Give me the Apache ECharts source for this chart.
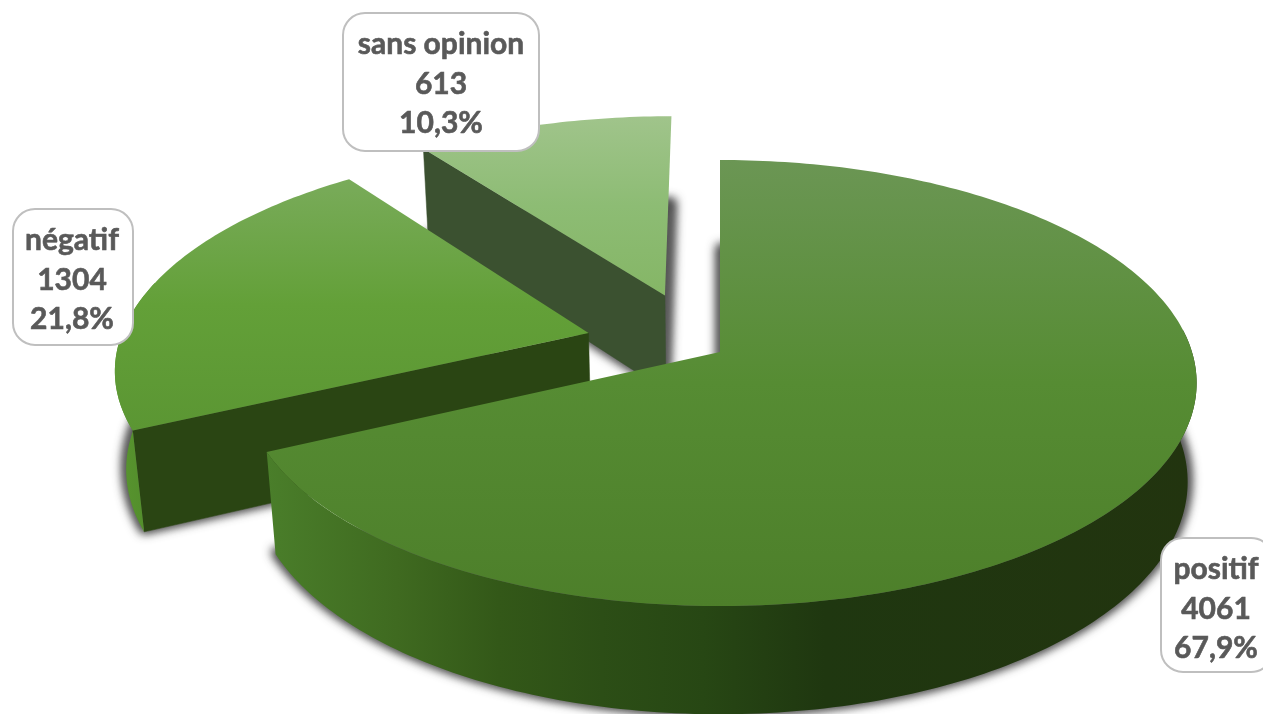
<!DOCTYPE html>
<html><head><meta charset="utf-8">
<style>html,body{margin:0;padding:0;background:#fff;overflow:hidden}#c{width:1263px;height:714px}</style>
<script src="https://cdn.jsdelivr.net/npm/echarts@6/dist/echarts.min.js"></script>
</head><body><div id="c"></div>
<script>
const categories = ['positif', 'négatif', 'sans opinion'];
const values = [4061, 1304, 613];
const total = values.reduce((a, b) => a + b, 0);

// Slice start/end angles (clockwise from 12 o'clock) derived from the values
const spans = [];
values.reduce((acc, v, i) => { spans[i] = [acc, acc + v / total * 360]; return spans[i][1]; }, 0);

// Perspective camera and appearance, indexed like categories
const cam = { cx: 720, cy: 352, R: 472, A: 218.7, B: 100, k: 0.139, m: 0.0188 };
const explode = [[0, 0], [-0.282, 0.088], [-0.121, 0.268]];
const looks = [
  { top: ['#6b9654', '#568c33', '#4d7f2a'], radial: '#26451a',
    outer: [[0, '#4a7e2a'], [0.14, '#3f6a20'], [0.25, '#335818'], [0.36, '#2c4e16'], [0.47, '#274714'], [0.6, '#1f3710'], [1, '#22340f']] },
  { top: ['#79ab5a', '#63a038', '#5b9633'], radial: '#2a4513',
    outer: [[0, '#59952f'], [1, '#4f8a2a']] },
  { top: ['#a0c48b', '#8dbc74', '#85b666'], radial: '#3b5130', outer: [[0, '#3b5130'], [1, '#3b5130']] }
];
const labelBoxes = [
  { x: 1161, y: 538, w: 112, h: 134, tx: 1216 },
  { x: 13, y: 209, w: 120, h: 136, tx: 72 },
  { x: 343, y: 13, w: 196, h: 138, tx: 441 }
];
const OFF = 3000; // shadow casters sit off-canvas so that only their blur shows

function project(u, v, z) {
  const w = 1 + cam.k * v + cam.m * z;
  return [cam.cx + cam.R * u / w, cam.cy + (-cam.A * v + cam.B * z) / w];
}
const rad = d => d * Math.PI / 180;
function rim(i, deg, z) {
  const e = explode[i];
  return project(e[0] + Math.sin(rad(deg)), e[1] + Math.cos(rad(deg)), z);
}
function apex(i, z) { return project(explode[i][0], explode[i][1], z); }
function arc(i, a, b, z) {
  const pts = [], n = Math.max(2, Math.ceil(Math.abs(b - a)));
  for (let t = 0; t <= n; t++) pts.push(rim(i, a + (b - a) * t / n, z));
  return pts;
}
function vGrad(c) {
  return new echarts.graphic.LinearGradient(0, 0, 0, 1,
    [{ offset: 0, color: c[0] }, { offset: 0.5, color: c[1] }, { offset: 1, color: c[2] }]);
}
function hGrad(stops) {
  return new echarts.graphic.LinearGradient(0, 0, 1, 0, stops.map(s => ({ offset: s[0], color: s[1] })));
}
function poly(points, style) { return { type: 'polygon', silent: true, shape: { points }, style }; }

function renderShadow(params, api) {
  const i = api.value(0), s = spans[i];
  const pts = [apex(i, 0.98)].concat(arc(i, s[0], s[1], 0.98)).map(p => [p[0] - OFF, p[1]]);
  return poly(pts, { fill: '#000', stroke: '#000', lineWidth: 9, lineJoin: 'round',
    shadowBlur: 10, shadowColor: 'rgba(50,50,50,0.85)', shadowOffsetX: OFF * (window.devicePixelRatio || 1) });
}
function renderSlice(params, api) {
  const i = api.value(0), s = spans[i], look = looks[i], children = [];
  // radial wall facing the viewer at the slice's starting edge
  if (Math.sin(rad(s[0])) < -0.01) {
    children.push(poly([apex(i, 0), rim(i, s[0], 0), rim(i, s[0], 1), apex(i, 1)],
      { fill: look.radial, stroke: look.radial, lineWidth: 0.5 }));
  }
  // outer curved wall where the rim faces the viewer
  const from = s[0] >= 180 ? s[0] : Math.max(s[0], 84);
  const to = s[0] >= 180 ? Math.min(s[1], 284) : s[1];
  if (to > from && from < 284) {
    const top = arc(i, from, to, 0), base = arc(i, from, to, 1).reverse();
    children.push(poly(top.concat(base), { fill: hGrad(look.outer) }));
  }
  // top face
  children.push(poly([apex(i, 0)].concat(arc(i, s[0], s[1], 0)), { fill: vGrad(look.top) }));
  return { type: 'group', children };
}
function renderLabel(params, api) {
  const i = api.value(0), b = labelBoxes[i];
  const pct = (values[i] / total * 100).toFixed(1).replace('.', ',');
  const lines = [categories[i], String(values[i]), pct + '%'];
  const children = [{
    type: 'rect', silent: true,
    shape: { x: b.x, y: b.y, width: b.w, height: b.h, r: 22 },
    style: { fill: '#fff', stroke: '#bfbfbf', lineWidth: 2 }
  }];
  lines.forEach((t, n) => children.push({
    type: 'text', silent: true,
    style: { x: b.tx, y: b.y + 31.5 + n * 39.5, text: t, fill: '#595959', stroke: '#595959', lineWidth: 0.6,
      align: 'center', verticalAlign: 'middle', font: 'bold 30px Lato, "Open Sans", sans-serif' }
  }));
  return { type: 'group', children };
}

const drawOrder = [[2], [1], [0]];
const chart = echarts.init(document.getElementById('c'), null, { renderer: 'canvas' });
chart.setOption({
  animation: false,
  backgroundColor: '#fff',
  series: [
    { type: 'custom', coordinateSystem: 'none', silent: true, z: 1, data: drawOrder, renderItem: renderShadow },
    { type: 'custom', coordinateSystem: 'none', silent: true, z: 2, data: drawOrder, renderItem: renderSlice },
    { type: 'custom', coordinateSystem: 'none', silent: true, z: 3, data: drawOrder, renderItem: renderLabel }
  ]
});
</script></body></html>
